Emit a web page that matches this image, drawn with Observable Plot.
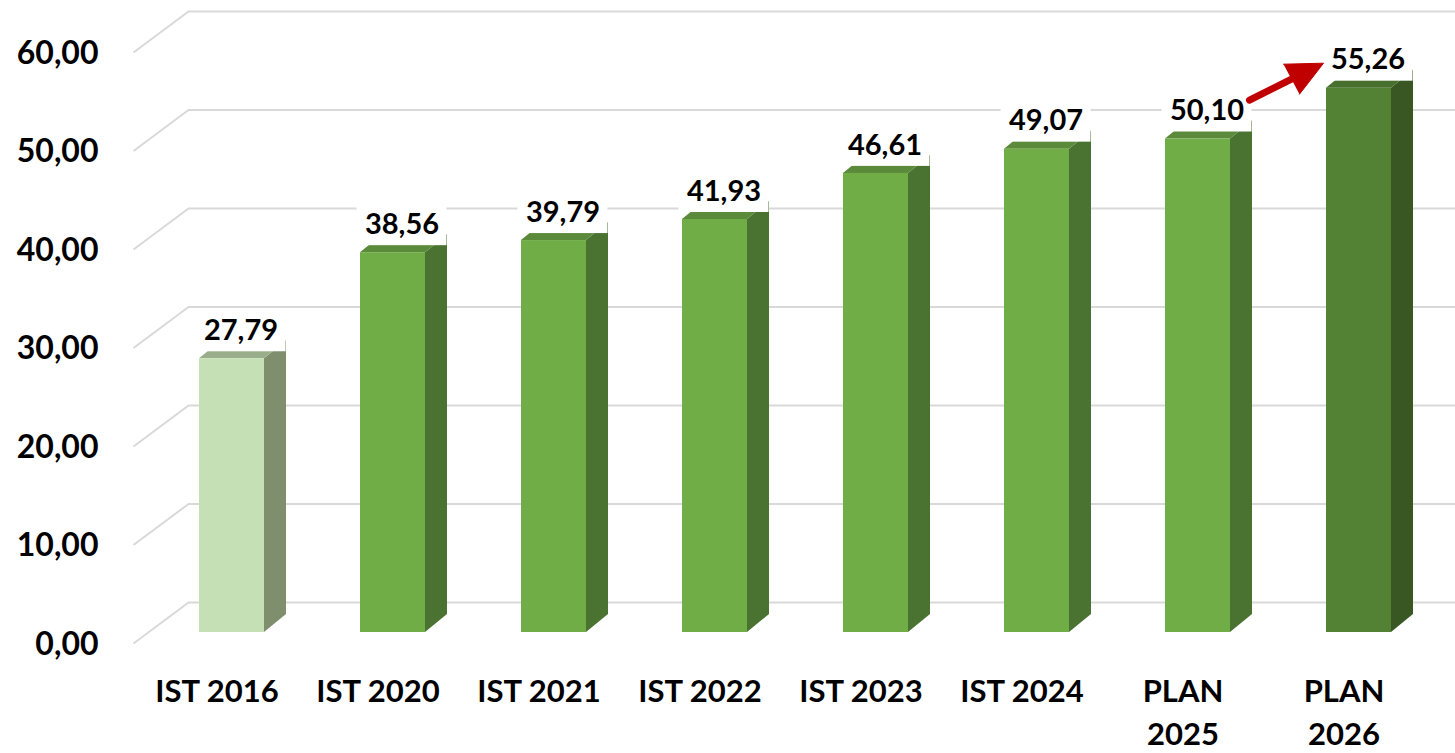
<!DOCTYPE html>
<html>
<head>
<meta charset="utf-8">
<script src="https://cdn.jsdelivr.net/npm/d3@7"></script>
<script src="https://cdn.jsdelivr.net/npm/@observablehq/plot@0.6"></script>
<style>
  html, body { margin: 0; padding: 0; background: #ffffff; }
  #chart { width: 1455px; height: 753px; overflow: hidden; }
</style>
</head>
<body>
<div id="chart"></div>
<script>
// ---- data ----
const categories = ["IST 2016", "IST 2020", "IST 2021", "IST 2022", "IST 2023", "IST 2024", "PLAN\n2025", "PLAN\n2026"];
const values = [27.79, 38.56, 39.79, 41.93, 46.61, 49.07, 50.10, 55.26];
const yTicks = [0, 10, 20, 30, 40, 50, 60];

// ---- styling / geometry (pixel based, converted to data units) ----
const W = 1455, H = 753;
const xRange = [216.5, 1343.5], yRange = [643, 52];
const kx = (xRange[1] - xRange[0]) / (categories.length - 1);
const ky = (yRange[0] - yRange[1]) / 60;
const ux = p => p / kx, uy = p => p / ky;

const axisLeftX = ux(133 - xRange[0]);
const wallDX = ux(55), wallDY = uy(41);
const barOffX = ux(15), barOffY = uy(11);
const barHalf = ux(32.5), barDX = ux(22), barDY = uy(18);

const font = "Lato, 'Open Sans', 'Noto Sans', sans-serif";
const fmt = d3.formatLocale({decimal: ",", thousands: ".", grouping: [3], currency: ["", "€"]}).format(".2f");

function palette(i) {
  if (i === 0) return {front: "#c5e0b4", side: "#7f8f6e", top: "#9aae8b"};
  if (i === categories.length - 1) return {front: "#548235", side: "#385723", top: "#476f2d"};
  return {front: "#70ad47", side: "#4a7230", top: "#5a8a3a"};
}

const bars = values.map((v, i) => {
  const c = i + barOffX;
  return {i, v, xl: c - barHalf, xr: c + barHalf, y0: barOffY, y1: v + barOffY, ...palette(i)};
});

const sidePts = bars.flatMap(b => [
  {z: b.i, x: b.xr, y1: b.y0, y2: b.y1, fill: b.side},
  {z: b.i, x: b.xr + barDX, y1: b.y0 + barDY, y2: b.y1 + barDY, fill: b.side}
]);
const topPts = bars.flatMap(b => [
  {z: b.i, y: b.y1, x1: b.xl, x2: b.xr, fill: b.top},
  {z: b.i, y: b.y1 + barDY, x1: b.xl + barDX, x2: b.xr + barDX, fill: b.top}
]);

// value labels
const lblDX = ux(9) + barOffX, lblDY = barOffY + uy(28);
const boxHW = ux(45), boxHH = uy(21);
const labels = values.map((v, i) => ({x: i + lblDX, y: v + lblDY, text: fmt(v)}));

// arrow (relative to top-left-front corner of last bar, px offsets)
const last = values.length - 1;
const P = (dxp, dyp) => ({x: last + barOffX - barHalf + ux(dxp), y: values[last] + barOffY - uy(dyp)});
const shaft = [P(-77, 12), P(-33, -10)];
const head = [P(-43, -24), P(-3, -25), P(-27, 6)];

const chart = Plot.plot({
  width: W,
  height: H,
  marginLeft: 0, marginRight: 0, marginTop: 0, marginBottom: 0,
  x: {domain: [0, categories.length - 1], range: xRange, axis: null},
  y: {domain: [0, 60], range: yRange, axis: null},
  color: {type: "identity"},
  style: {fontFamily: font, background: "#ffffff", overflow: "hidden"},
  marks: [
    // back wall gridlines
    Plot.ruleY(yTicks, {y: t => t + wallDY, x1: axisLeftX + wallDX, x2: 8, stroke: "#d9d9d9", strokeWidth: 2}),
    // side diagonals
    Plot.link(yTicks, {x1: axisLeftX, y1: t => t, x2: axisLeftX + wallDX, y2: t => t + wallDY, stroke: "#d9d9d9", strokeWidth: 2}),
    // bar faces
    Plot.areaY(sidePts, {x: "x", y1: "y1", y2: "y2", z: "z", fill: "fill"}),
    Plot.areaX(topPts, {y: "y", x1: "x1", x2: "x2", z: "z", fill: "fill"}),
    Plot.rect(bars, {x1: "xl", x2: "xr", y1: "y0", y2: "y1", fill: "front"}),
    // label boxes + labels
    Plot.rect(labels, {x1: d => d.x - boxHW, x2: d => d.x + boxHW, y1: d => d.y - boxHH, y2: d => d.y + boxHH, fill: "#ffffff"}),
    Plot.text(labels, {x: "x", y: "y", text: "text", fontSize: 29, fontWeight: 700, fill: "#000000"}),
    // y tick labels
    Plot.text(yTicks, {x: axisLeftX, y: t => t, text: t => fmt(t), textAnchor: "end", dx: -35, dy: 1, fontSize: 32, fontWeight: 700, fill: "#000000"}),
    // category labels
    Plot.text(categories, {x: (d, i) => i, y: -uy(28), text: d => d, lineAnchor: "top", lineHeight: 1.38, fontSize: 31, fontWeight: 700, fill: "#000000"}),
    // red arrow
    Plot.line(shaft, {x: "x", y: "y", stroke: "#c00000", strokeWidth: 7}),
    Plot.line(head, {x: "x", y: "y", fill: "#c00000", stroke: "#c00000", strokeWidth: 1})
  ]
});
document.getElementById("chart").appendChild(chart);
</script>
</body>
</html>
